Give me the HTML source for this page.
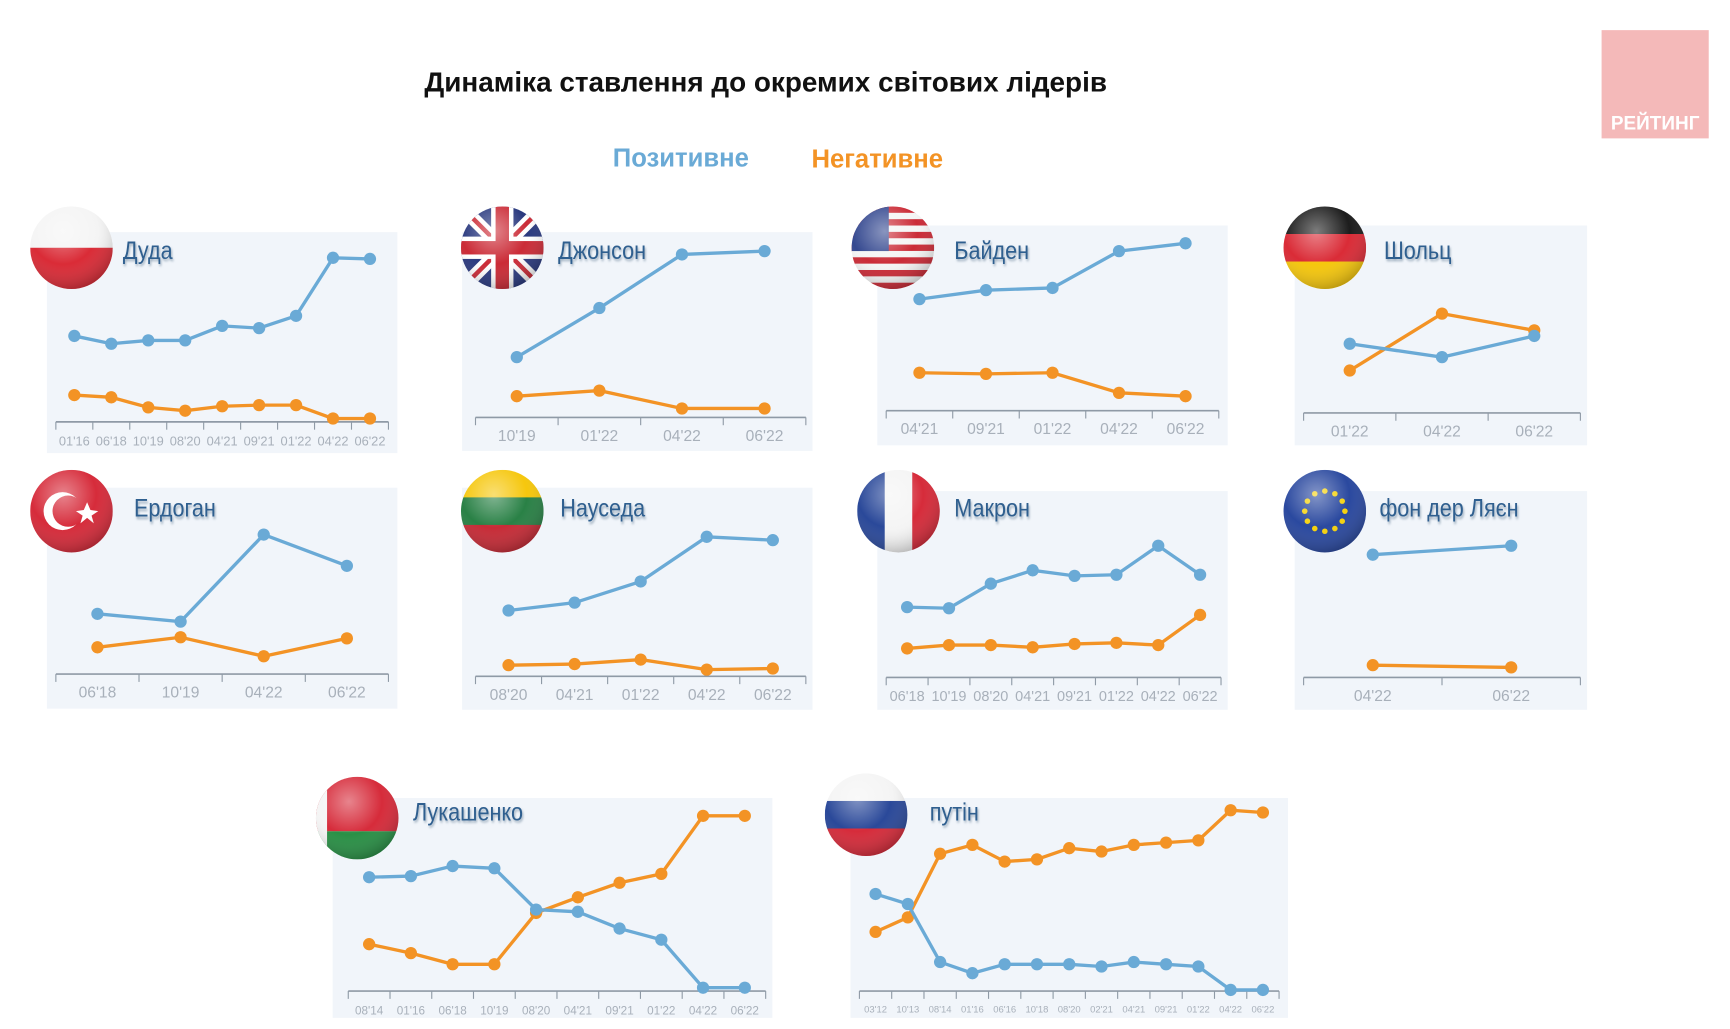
<!DOCTYPE html>
<html><head><meta charset="utf-8"><style>
html,body{margin:0;padding:0;background:#fff;}
svg{display:block;font-family:"Liberation Sans",sans-serif;}
</style></head><body>
<svg id="root" width="1730" height="1029" viewBox="0 0 1550 922" xmlns="http://www.w3.org/2000/svg">
<defs>
<radialGradient id="gloss" cx="0.4" cy="0.3" r="0.8">
<stop offset="0" stop-color="#fff" stop-opacity="0.45"/><stop offset="0.5" stop-color="#fff" stop-opacity="0.05"/><stop offset="1" stop-color="#000" stop-opacity="0.35"/></radialGradient>
<filter id="sh"><feGaussianBlur stdDeviation="1.2"/></filter>
</defs>
<text x="686" y="82" text-anchor="middle" font-size="25" font-weight="bold" fill="#111">Динаміка ставлення до окремих світових лідерів</text>
<text x="610" y="149" text-anchor="middle" font-size="23" font-weight="bold" fill="#6aaad6">Позитивне</text>
<text x="786" y="150" text-anchor="middle" font-size="23" font-weight="bold" fill="#f39325">Негативне</text>
<rect x="1435" y="27" width="96" height="97" fill="#f4b9b9"/>
<text x="1483" y="116" text-anchor="middle" font-size="17" font-weight="bold" fill="#fff">РЕЙТИНГ</text>
<g id="panels"></g>
</svg>
<script>
// ---- data ----
const dudaLabels=["01'16","06'18","10'19","08'20","04'21","09'21","01'22","04'22","06'22"];
const dudaPos=[38.5,35,36.5,36.5,43,42,47.5,73.5,73];
const dudaNeg=[12,11,6.5,5,7,7.5,7.5,1.5,1.5];
const johnsonLabels=["10'19","01'22","04'22","06'22"];
const johnsonPos=[27,49,73,74.5];
const johnsonNeg=[9.5,12,4,4];
const bidenLabels=["04'21","09'21","01'22","04'22","06'22"];
const bidenPos=[50,54,55,71.5,75];
const bidenNeg=[17,16.5,17,8,6.5];
const scholzLabels=["01'22","04'22","06'22"];
const scholzPos=[31,25,34.5];
const scholzNeg=[19,44.5,37];
const erdoganLabels=["06'18","10'19","04'22","06'22"];
const erdoganPos=[27,23.5,62.5,48.5];
const erdoganNeg=[12,16.5,8,16];
const nausedaLabels=["08'20","04'21","01'22","04'22","06'22"];
const nausedaPos=[29.5,33,42.5,62.5,61];
const nausedaNeg=[5,5.5,7.5,3,3.5];
const macronLabels=["06'18","10'19","08'20","04'21","09'21","01'22","04'22","06'22"];
const macronPos=[31.5,31,42,48,45.5,46,59,46];
const macronNeg=[13,14.5,14.5,13.5,15,15.5,14.5,28];
const leyenLabels=["04'22","06'22"];
const leyenPos=[55,59];
const leyenNeg=[5.5,4.5];
const lukLabels=["08'14","01'16","06'18","10'19","08'20","04'21","09'21","01'22","04'22","06'22"];
const lukPos=[51,51.5,56,55,36.5,35.5,28,23,1.5,1.5];
const lukNeg=[21,17,12,12,35,42,48.5,52.5,78.5,78.5];
const putinLabels=["03'12","10'13","08'14","01'16","06'16","10'18","08'20","02'21","04'21","09'21","01'22","04'22","06'22"];
const putinPos=[43.5,39,13,8,12,12,12,11,13,12,11,0.5,0.5];
const putinNeg=[26.5,33,61.5,65.5,58,59,64,62.5,65.5,66.5,67.5,81,80];

const panels=[
 {id:'duda',name:'Дуда',flag:'pl',bg:[42,208,314,198],ax:[50,348,378],fx:64,fy:222,nx:110,ny:232,lab:dudaLabels,pos:dudaPos,neg:dudaNeg,fs:11.5},
 {id:'johnson',name:'Джонсон',flag:'uk',bg:[414,208,314,196],ax:[426,722,374],fx:450,fy:222,nx:500,ny:232,lab:johnsonLabels,pos:johnsonPos,neg:johnsonNeg,fs:14},
 {id:'biden',name:'Байден',flag:'us',bg:[786,202,314,197],ax:[794,1092,368],fx:800,fy:222,nx:855,ny:232,lab:bidenLabels,pos:bidenPos,neg:bidenNeg,fs:14},
 {id:'scholz',name:'Шольц',flag:'de',bg:[1160,202,262,197],ax:[1168,1416,370],fx:1187,fy:222,nx:1240,ny:232,lab:scholzLabels,pos:scholzPos,neg:scholzNeg,fs:14},
 {id:'erdogan',name:'Ердоган',flag:'tr',bg:[42,437,314,198],ax:[50,348,604],fx:64,fy:458,nx:120,ny:463,lab:erdoganLabels,pos:erdoganPos,neg:erdoganNeg,fs:14},
 {id:'nauseda',name:'Науседа',flag:'lt',bg:[414,437,314,199],ax:[426,722,606],fx:450,fy:458,nx:502,ny:463,lab:nausedaLabels,pos:nausedaPos,neg:nausedaNeg,fs:14},
 {id:'macron',name:'Макрон',flag:'fr',bg:[786,440,314,196],ax:[794,1094,607],fx:805,fy:458,nx:855,ny:463,lab:macronLabels,pos:macronPos,neg:macronNeg,fs:13},
 {id:'leyen',name:'фон дер Ляєн',flag:'eu',bg:[1160,440,262,196],ax:[1168,1416,607],fx:1187,fy:458,nx:1236,ny:463,lab:leyenLabels,pos:leyenPos,neg:leyenNeg,fs:14},
 {id:'lukashenko',name:'Лукашенко',flag:'by',bg:[298,715,394,197],ax:[312,686,888],fx:320,fy:733,nx:370,ny:735,lab:lukLabels,pos:lukPos,neg:lukNeg,fs:10.5},
 {id:'putin',name:'путін',flag:'ru',bg:[762,715,392,197],ax:[770,1146,888],fx:776,fy:730,nx:833,ny:735,lab:putinLabels,pos:putinPos,neg:putinNeg,fs:8.5}
];
const NS='http://www.w3.org/2000/svg';
function mk(tag,attrs,parent){const e=document.createElementNS(NS,tag);for(const k in attrs)e.setAttribute(k,attrs[k]);parent.appendChild(e);return e;}
const root=document.getElementById('panels');
const PX=2; // pixels per value unit

function drawFlag(g,p){
  const cx=p.fx,cy=p.fy,r=37;
  const cid='clip-'+p.id;
  const cp=mk('clipPath',{id:cid},g);mk('circle',{cx:cx,cy:cy,r:r},cp);
  const f=mk('g',{'clip-path':'url(#'+cid+')'},g);
  
  
  const x=cx-r,y=cy-r,w=2*r;
  const stripes=(cols)=>{const h=w/cols.length;cols.forEach((c,i)=>mk('rect',{x:x,y:y+i*h,width:w,height:h+0.5,fill:c},f));};
  const vstripes=(cols)=>{const h=w/cols.length;cols.forEach((c,i)=>mk('rect',{x:x+i*h,y:y,width:h+0.5,height:w,fill:c},f));};
  if(p.flag==='pl')stripes(['#f4f4f4','#d8202c']);
  else if(p.flag==='de')stripes(['#111','#d8202c','#f5c400']);
  else if(p.flag==='lt')stripes(['#f5c400','#1e7a3c','#c4202c']);
  else if(p.flag==='ru')stripes(['#f4f4f4','#1f3f94','#d42030']);
  else if(p.flag==='fr')vstripes(['#1f3f94','#f4f4f4','#d42030']);
  else if(p.flag==='by'){mk('rect',{x:x,y:y,width:w,height:w*0.66,fill:'#d42030'},f);mk('rect',{x:x,y:y+w*0.66,width:w,height:w*0.34,fill:'#1e8a3c'},f);mk('rect',{x:x,y:y,width:10,height:w,fill:'#f4f4f4'},f);}
  else if(p.flag==='tr'){mk('rect',{x:x,y:y,width:w,height:w,fill:'#d42030'},f);mk('circle',{cx:cx-8,cy:cy,r:17,fill:'#fff'},f);mk('circle',{cx:cx-3,cy:cy,r:14,fill:'#d42030'},f);mk('polygon',{points:`${cx+14},${cy-8} ${cx+17},${cy-1} ${cx+24},${cy} ${cx+18},${cy+4} ${cx+20},${cy+11} ${cx+14},${cy+6} ${cx+8},${cy+11} ${cx+10},${cy+4} ${cx+4},${cy} ${cx+11},${cy-1}`,fill:'#fff'},f);}
  else if(p.flag==='us'){for(let i=0;i<13;i++)mk('rect',{x:x,y:y+i*w/13,width:w,height:w/13+0.5,fill:i%2?'#f4f4f4':'#c8202c'},f);mk('rect',{x:x,y:y,width:w*0.45,height:w*0.54,fill:'#2a3f8a'},f);}
  else if(p.flag==='uk'){mk('rect',{x:x,y:y,width:w,height:w,fill:'#1f2f78'},f);mk('line',{x1:x,y1:y,x2:x+w,y2:y+w,stroke:'#fff','stroke-width':12},f);mk('line',{x1:x+w,y1:y,x2:x,y2:y+w,stroke:'#fff','stroke-width':12},f);mk('line',{x1:x,y1:y,x2:x+w,y2:y+w,stroke:'#c8202c','stroke-width':4},f);mk('line',{x1:x+w,y1:y,x2:x,y2:y+w,stroke:'#c8202c','stroke-width':4},f);mk('rect',{x:cx-10,y:y,width:20,height:w,fill:'#fff'},f);mk('rect',{x:x,y:cy-10,width:w,height:20,fill:'#fff'},f);mk('rect',{x:cx-6,y:y,width:12,height:w,fill:'#c8202c'},f);mk('rect',{x:x,y:cy-6,width:w,height:12,fill:'#c8202c'},f);}
  else if(p.flag==='eu'){mk('rect',{x:x,y:y,width:w,height:w,fill:'#1f3f9a'},f);for(let i=0;i<12;i++){const a=i*Math.PI/6;mk('circle',{cx:cx+18*Math.cos(a),cy:cy+18*Math.sin(a),r:2.5,fill:'#f5d000'},f);}}
  mk('circle',{cx:cx,cy:cy,r:r,fill:'url(#gloss)'},f);
}

panels.forEach(p=>{
  const g=mk('g',{},root);
  
  
  const bg=mk('rect',{x:p.bg[0],y:p.bg[1],width:p.bg[2],height:p.bg[3],fill:'#f1f5fa'},g);
  
  
  const [x0,x1,ay]=p.ax;const n=p.lab.length;const step=(x1-x0)/n;
  const xs=i=>x0+(i+0.5)*step;
  const ys=v=>ay-v*PX;
  const axis=mk('line',{x1:x0,y1:ay,x2:x1,y2:ay,stroke:'#8f9aa6','stroke-width':1.5},g);
  
  
  for(let i=0;i<=n;i++){mk('line',{x1:x0+i*step,y1:ay,x2:x0+i*step,y2:ay+7,stroke:'#8f9aa6','stroke-width':1},g);}
  p.lab.forEach((l,i)=>{
    const t=mk('text',{x:xs(i),y:ay+(p.fs<10?19:21),'text-anchor':'middle','font-size':p.fs,fill:'#a8b0ba'},g);
    t.textContent=l;
    
    
  });
  [['neg',p.neg,'#f39325'],['pos',p.pos,'#6aaad6']].forEach(([k,arr,c])=>{
    const pl=mk('polyline',{points:arr.map((v,i)=>xs(i)+','+ys(v)).join(' '),fill:'none',stroke:c,'stroke-width':3},g);
    
    
    arr.forEach((v,i)=>{
      const d=mk('circle',{cx:xs(i),cy:ys(v),r:5.5,fill:c},g);
      
      
    });
  });
  drawFlag(g,p);
  const sh=mk('text',{x:p.nx+1,y:p.ny+2,'font-size':22,fill:'#9ab',filter:'url(#sh)',transform:`translate(${p.nx},0) scale(0.88,1) translate(${-p.nx},0)`},g);
  sh.textContent=p.name;
  const nm=mk('text',{x:p.nx,y:p.ny,'font-size':22,fill:'#2f5f8f',transform:`translate(${p.nx},0) scale(0.88,1) translate(${-p.nx},0)`},g);
  nm.textContent=p.name;
  
  
});
</script>
</body></html>
